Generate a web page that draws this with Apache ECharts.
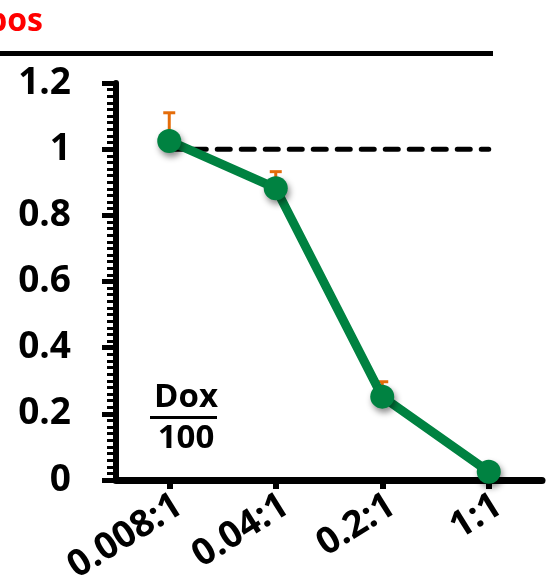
<!DOCTYPE html>
<html>
<head>
<meta charset="utf-8">
<script src="https://cdn.jsdelivr.net/npm/echarts@6/dist/echarts.min.js"></script>
<style>
html,body{margin:0;padding:0;background:#fff;}
#chart{width:550px;height:585px;}
</style>
</head>
<body>
<div id="chart"></div>
<script>
// ---- data ----
var categories = ['0.008:1', '0.04:1', '0.2:1', '1:1'];
var values = [1.025, 0.882, 0.252, 0.025];
var errors = [0.085, 0.05, 0.045, 0.01];
var reference = [1, 1, 1, 1];
var yTicks = [0, 0.2, 0.4, 0.6, 0.8, 1, 1.2];
var titleText = 'pos';
var fracTop = 'Dox';
var fracBottom = '100';

var FONT = '"Open Sans", Lato, sans-serif';
var GREEN = '#008241';
var ORANGE = '#E46C0A';

var chart = echarts.init(document.getElementById('chart'), null, {renderer: 'canvas'});

var option = {
  animation: false,
  backgroundColor: '#ffffff',
  grid: {left: 116, right: 8, top: 83, bottom: 105, containLabel: false, outerBoundsMode: 'none'},
  xAxis: {
    type: 'category',
    data: categories,
    boundaryGap: true,
    axisLine: {show: true, lineStyle: {color: '#000', width: 7}},
    axisTick: {show: true, alignWithLabel: true, length: 9, lineStyle: {color: '#000', width: 6}},
    axisLabel: {
      rotate: 32, margin: 7, color: '#000', fontFamily: FONT, fontWeight: 'bold', fontSize: 37,
      interval: 0, align: 'right', verticalAlign: 'top'
    },
    splitLine: {show: false}
  },
  yAxis: {
    type: 'value',
    min: 0, max: 1.2, interval: 0.2,
    axisLine: {show: true, lineStyle: {color: '#000', width: 6}},
    axisTick: {show: true, length: 14, lineStyle: {color: '#000', width: 5}},
    minorTick: {show: true, splitNumber: 10, length: 9, lineStyle: {color: '#000', width: 3}},
    axisLabel: {
      margin: 45, color: '#000', fontFamily: FONT, fontWeight: 'bold', fontSize: 37,
      formatter: function (v) {
        var idx = yTicks.findIndex(function (t) { return Math.abs(t - v) < 1e-6; });
        return idx >= 0 ? String(yTicks[idx]) : '';
      }
    },
    splitLine: {show: false},
    minorSplitLine: {show: false}
  },
  series: [
    {
      name: 'reference',
      type: 'line',
      data: reference,
      symbol: 'none',
      z: 1,
      lineStyle: {color: '#000', width: 5, type: [13, 11], cap: 'round'},
      silent: true
    },
    {
      name: 'error',
      type: 'custom',
      z: 2,
      data: values.map(function (v, i) { return [i, v, errors[i]]; }),
      renderItem: function (params, api) {
        var i = api.value(0), v = api.value(1), e = api.value(2);
        var p0 = api.coord([i, v]);
        var p1 = api.coord([i, v + e]);
        var hw = 6;
        return {
          type: 'group',
          children: [
            {type: 'line', shape: {x1: p0[0], y1: p0[1], x2: p1[0], y2: p1[1]}, style: {stroke: ORANGE, lineWidth: 3}},
            {type: 'line', shape: {x1: p1[0] - hw, y1: p1[1], x2: p1[0] + hw, y2: p1[1]}, style: {stroke: ORANGE, lineWidth: 3}}
          ]
        };
      }
    },
    {
      name: 'value',
      type: 'line',
      data: values,
      z: 3,
      symbol: 'circle',
      symbolSize: 24,
      lineStyle: {color: GREEN, width: 9},
      itemStyle: {color: GREEN, shadowColor: 'rgba(0,0,0,0.45)', shadowBlur: 6, shadowOffsetX: 2, shadowOffsetY: 4}
    }
  ],
  graphic: [
    {type: 'text', left: -13, top: 6, style: {text: titleText, fill: '#ff0000', font: 'bold 32px ' + FONT}},
    {type: 'rect', shape: {x: 0, y: 51, width: 493, height: 5}, style: {fill: '#000'}},
    {type: 'text', x: 186, y: 398, style: {text: fracTop, fill: '#000', font: 'bold 33px ' + FONT, textAlign: 'center', textVerticalAlign: 'middle'}},
    {type: 'rect', shape: {x: 150, y: 416, width: 67, height: 3}, style: {fill: '#000'}},
    {type: 'text', x: 186, y: 439, style: {text: fracBottom, fill: '#000', font: 'bold 33px ' + FONT, textAlign: 'center', textVerticalAlign: 'middle'}}
  ]
};
chart.setOption(option);
</script>
</body>
</html>
